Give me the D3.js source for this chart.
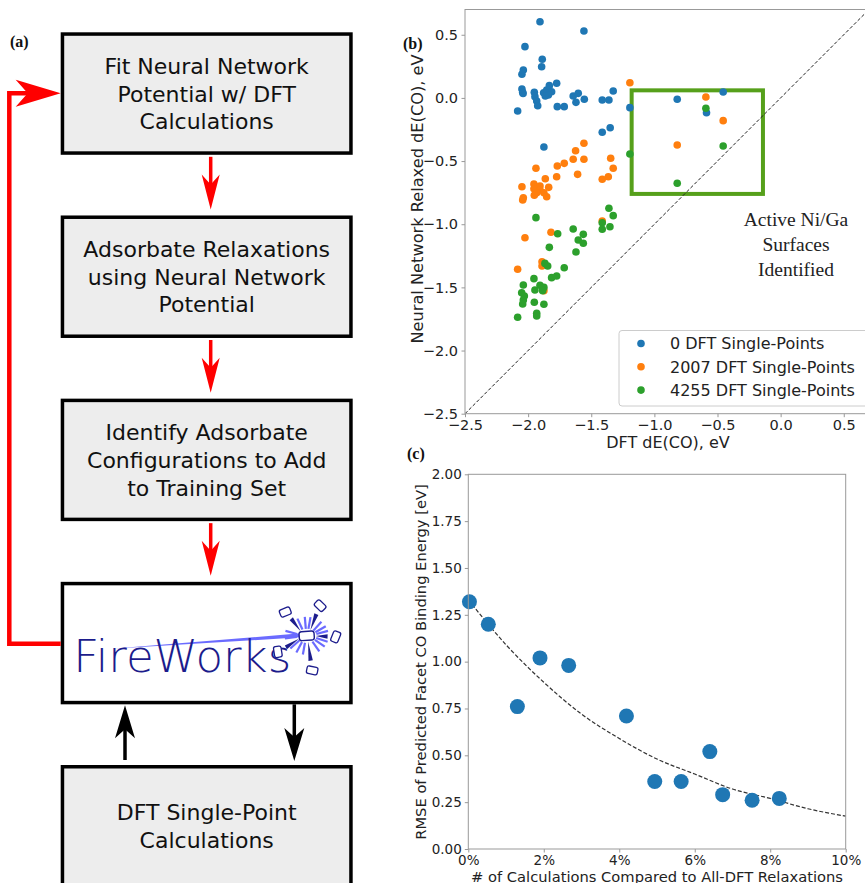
<!DOCTYPE html>
<html>
<head>
<meta charset="utf-8">
<script src="https://cdn.jsdelivr.net/npm/d3@7"></script>
<style>
  body { margin: 0; background: #fff; }
  svg { font-family: "DejaVu Sans", sans-serif; }
</style>
</head>
<body>
<svg id="fig" width="865" height="883"></svg>
<script>
// ---- panel (a) flowchart steps ----
const steps = [
  ["Fit Neural Network", "Potential w/ DFT", "Calculations"],
  ["Adsorbate Relaxations", "using Neural Network", "Potential"],
  ["Identify Adsorbate", "Configurations to Add", "to Training Set"],
  [], // FireWorks logo box
  ["DFT Single-Point", "Calculations"]
];

// ---- panel (b) parity plot, [DFT, NN] pairs ----
const blueSet = [[-1.906,0.603],[-1.558,0.530],[-2.025,0.406],[-1.888,0.306],[-1.893,0.247],[-2.038,0.221],
  [-2.049,0.187],[-2.049,0.071],[-2.043,0.044],[-2.04,0.035],[-1.951,0.044],[-1.946,0.010],[-1.932,-0.024],
  [-1.924,-0.062],[-1.877,0.041],[-1.853,0.063],[-1.832,0.097],[-1.814,0.049],[-1.840,0.023],[-1.864,0.015],
  [-1.774,0.116],[-1.769,-0.069],[-1.714,-0.069],[-1.643,0.015],[-1.603,0.036],[-1.621,-0.035],[-1.555,-0.011],
  [-1.413,-0.017],[-1.360,-0.017],[-1.326,0.055],[-1.194,-0.077],[-2.083,-0.104],[-1.413,-0.272],[-1.350,-0.236],
  [-1.875,-0.389],[-0.819,-0.011],[-0.587,-0.117],[-0.455,0.047]];
const orangeSet = [[-1.558,-0.359],[-1.624,-0.418],[-1.346,-0.478],[-1.558,-0.486],[-1.643,-0.486],[-1.714,-0.518],
  [-1.769,-0.539],[-1.938,-0.557],[-1.326,-0.557],[-1.365,-0.624],[-1.608,-0.605],[-1.774,-0.624],[-1.413,-0.644],
  [-1.864,-0.640],[-2.049,-0.703],[-1.954,-0.682],[-1.906,-0.698],[-1.954,-0.719],[-1.906,-0.729],[-1.932,-0.751],
  [-1.875,-0.751],[-1.837,-0.708],[-1.951,-0.771],[-1.853,-0.782],[-2.038,-0.790],[-2.043,-0.808],[-2.025,-1.107],
  [-1.819,-1.064],[-1.413,-0.975],[-2.083,-1.357],[-1.890,-1.297],[-1.890,-1.331],[-1.875,-1.526],[-1.194,0.120],
  [-0.592,0.007],[-0.455,-0.180],[-0.819,-0.373]];
const greenSet = [[-1.360,-0.874],[-1.326,-0.932],[-1.938,-0.948],[-1.413,-0.988],[-1.352,-1.020],[-1.413,-1.040],
  [-1.643,-1.038],[-1.766,-1.075],[-1.563,-1.080],[-1.603,-1.125],[-1.563,-1.151],[-1.621,-1.220],[-1.832,-1.183],
  [-1.714,-1.344],[-1.867,-1.310],[-1.845,-1.331],[-1.814,-1.423],[-1.774,-1.410],[-1.954,-1.431],[-2.038,-1.481],
  [-1.906,-1.484],[-1.875,-1.500],[-1.946,-1.521],[-1.885,-1.526],[-2.051,-1.542],[-2.030,-1.568],[-2.038,-1.600],
  [-1.951,-1.618],[-2.043,-1.632],[-1.875,-1.634],[-1.932,-1.705],[-1.932,-1.727],[-2.083,-1.737],[-1.194,-0.444],
  [-0.819,-0.676],[-0.592,-0.082],[-0.455,-0.381]];
const seriesNames = ["0 DFT Single-Points", "2007 DFT Single-Points", "4255 DFT Single-Points"];
const seriesColors = ["#1f77b4", "#ff7f0e", "#2ca02c"];
const activeBox = { x0: -1.18, x1: -0.14, y0: -0.76, y1: 0.06 };
const activeNote = ["Active Ni/Ga", "Surfaces", "Identified"];
const bTicks = [-2.5, -2.0, -1.5, -1.0, -0.5, 0.0, 0.5];

// ---- panel (c) RMSE vs fraction of DFT calcs ----
const calcPct = [0.03, 0.53, 1.30, 1.90, 2.66, 4.19, 4.94, 5.64, 6.40, 6.74, 7.52, 8.24];
const rmse = [1.32, 1.20, 0.76, 1.02, 0.98, 0.71, 0.36, 0.36, 0.52, 0.29, 0.26, 0.27];
const fitPct = [0, 1, 2, 3, 4, 5, 6, 7, 8, 9, 10];
const fitRmse = [1.33, 1.09, 0.89, 0.72, 0.59, 0.48, 0.40, 0.32, 0.27, 0.215, 0.175];
const cYTicks = [0, 0.25, 0.5, 0.75, 1.0, 1.25, 1.5, 1.75, 2.0];
const cXTicks = [0, 2, 4, 6, 8, 10];

const svg = d3.select("#fig");
const frameCol = "#999";
const labelFont = "'Liberation Serif', 'Times New Roman', serif";

// ================= panel (a) =================
const boxTop = d3.scaleLinear().domain([0, 4]).range([32.3, 765]);
const boxX = 60.7, boxW = 292, boxH = 122.5, sw = 3.5;
const midX = boxX + boxW / 2;

const boxes = svg.append("g");
steps.forEach((lines, i) => {
  const t = boxTop(i);
  boxes.append("rect")
    .attr("x", boxX + sw / 2).attr("y", t + sw / 2)
    .attr("width", boxW - sw).attr("height", boxH - sw)
    .attr("fill", i === 3 ? "#fff" : "#ededed")
    .attr("stroke", "#000").attr("stroke-width", sw);
  const cy0 = t + boxH / 2;
  lines.forEach((s, j) => {
    boxes.append("text")
      .attr("x", midX).attr("y", cy0 + (j - (lines.length - 1) / 2) * 27.6 + 8)
      .attr("text-anchor", "middle").attr("font-size", 22).attr("fill", "#111")
      .text(s);
  });
});

function arrowHead(g, x, y, dir, w, len, notch, col) {
  // dir: angle in degrees the arrow points to (0 = right, 90 = down)
  g.append("path")
    .attr("d", `M0,0 L${-len},${-w / 2} L${-len + notch},0 L${-len},${w / 2} Z`)
    .attr("transform", `translate(${x},${y}) rotate(${dir})`)
    .attr("fill", col);
}

const arrows = svg.append("g");
// red arrows between the first four boxes
[0, 1, 2].forEach(i => {
  const y0 = boxTop(i) + boxH + 2;
  const tip = boxTop(i + 1) - 6;
  arrows.append("line").attr("x1", 210.7).attr("x2", 210.7)
    .attr("y1", y0).attr("y2", tip - 20)
    .attr("stroke", "#ff0000").attr("stroke-width", 3.5);
  arrowHead(arrows, 210.7, tip, 90, 18, 35, 10, "#ff0000");
});
// loop back from FireWorks to fitting
const loopY0 = boxTop(3) + 62, loopY1 = boxTop(0) + 61;
arrows.append("path")
  .attr("d", `M${boxX},${loopY0} H9.3 V${loopY1} H30`)
  .attr("fill", "none").attr("stroke", "#ff0000").attr("stroke-width", 4.5);
arrowHead(arrows, boxX, loopY1, 0, 27, 45, 12, "#ff0000");
// black arrows FireWorks <-> DFT
const fwBottom = boxTop(3) + boxH, dftTop = boxTop(4);
arrows.append("line").attr("x1", 125).attr("x2", 125)
  .attr("y1", dftTop - 5).attr("y2", fwBottom + 20)
  .attr("stroke", "#000").attr("stroke-width", 3.5);
arrowHead(arrows, 125, fwBottom + 1, -90, 20, 33, 9, "#000");
arrows.append("line").attr("x1", 294.3).attr("x2", 294.3)
  .attr("y1", fwBottom).attr("y2", dftTop - 25)
  .attr("stroke", "#000").attr("stroke-width", 3.5);
arrowHead(arrows, 294.3, dftTop - 4, 90, 20, 33, 9, "#000");

// FireWorks logo
const logo = svg.append("g").attr("transform", `translate(${boxX},${boxTop(3)})`);
const navy = "#1c1c8c", lite = "#6b6bff";
logo.append("path")
  .attr("d", "M51,67 L240,51.5 L240,55.5 Z")
  .attr("fill", lite);
logo.append("text")
  .attr("x", 12.5).attr("y", 90).attr("font-size", 44).attr("font-weight", 200)
  .attr("textLength", 218).attr("lengthAdjust", "spacingAndGlyphs")
  .attr("fill", navy).text("FireWorks");
const burst = logo.append("g").attr("transform", "translate(246,54)");
[-115, -95, -80, -48, -30, -15, 18, 35, 55, 100, 118, 138, 172, -165].forEach(a => {
  const r = a * Math.PI / 180;
  burst.append("line")
    .attr("x1", 10 * Math.cos(r)).attr("y1", 7 * Math.sin(r))
    .attr("x2", 22 * Math.cos(r)).attr("y2", 19 * Math.sin(r))
    .attr("stroke", lite).attr("stroke-width", 2.2);
});
[[-132, 32], [-66, 33], [2, 29], [151, 33], [81, 35]].forEach(([a, d]) => {
  const r = a * Math.PI / 180;
  const ex = d * Math.cos(r), ey = d * Math.sin(r);
  const px = -Math.sin(r) * 2.2, py = Math.cos(r) * 2.2;
  burst.append("path")
    .attr("d", `M${9 * Math.cos(r)},${6 * Math.sin(r)} L${ex * 0.72 + px},${ey * 0.72 + py} L${ex * 0.72 - px},${ey * 0.72 - py} Z`)
    .attr("fill", navy);
  burst.append("rect")
    .attr("x", -5.5).attr("y", -3.8).attr("width", 11).attr("height", 7.6).attr("rx", 2)
    .attr("transform", `translate(${ex},${ey}) rotate(${a + 90 + 20})`)
    .attr("fill", "#fff").attr("stroke", navy).attr("stroke-width", 1.3);
});
burst.append("rect")
  .attr("x", -7.5).attr("y", -4.5).attr("width", 15).attr("height", 9).attr("rx", 2.5)
  .attr("transform", "rotate(-4)")
  .attr("fill", "#fff").attr("stroke", navy).attr("stroke-width", 1.4);

// panel labels
[["(a)", 10, 47], ["(b)", 403, 49], ["(c)", 407, 459]].forEach(([s, x, y]) => {
  svg.append("text").attr("x", x).attr("y", y)
    .style("font-family", labelFont).attr("font-weight", "bold").attr("font-size", 16)
    .attr("fill", "#111").text(s);
});

function styleAxis(g, size) {
  g.select(".domain").remove();
  g.selectAll(".tick line").attr("stroke", frameCol);
  g.selectAll(".tick text").attr("font-size", size).attr("fill", "#222")
    .style("font-family", "'DejaVu Sans', sans-serif");
}

// ================= panel (b) =================
const bx = d3.scaleLinear().domain([-2.5, 0.7]).range([465, 869]);
const by = d3.scaleLinear().domain([-2.5, 0.7]).range([413.7, 9.5]);
const gb = svg.append("g");
gb.append("clipPath").attr("id", "clipB").append("rect")
  .attr("x", bx(-2.5)).attr("y", by(0.7))
  .attr("width", bx(0.7) - bx(-2.5)).attr("height", by(-2.5) - by(0.7));
const plotB = gb.append("g").attr("clip-path", "url(#clipB)");

plotB.append("rect")
  .attr("x", bx(activeBox.x0)).attr("y", by(activeBox.y1))
  .attr("width", bx(activeBox.x1) - bx(activeBox.x0))
  .attr("height", by(activeBox.y0) - by(activeBox.y1))
  .attr("fill", "none").attr("stroke", "#56a01b").attr("stroke-width", 4);

plotB.append("line")
  .attr("x1", bx(-2.5)).attr("y1", by(-2.5)).attr("x2", bx(0.7)).attr("y2", by(0.7))
  .attr("stroke", "#222").attr("stroke-width", 1).attr("stroke-dasharray", "3.5,2");

[blueSet, orangeSet, greenSet].forEach((set, k) => {
  plotB.append("g").selectAll("circle").data(set).join("circle")
    .attr("cx", d => bx(d[0])).attr("cy", d => by(d[1])).attr("r", 3.8)
    .attr("fill", seriesColors[k]);
});

gb.append("g").attr("transform", `translate(0,${by(-2.5)})`)
  .call(d3.axisBottom(bx).tickValues(bTicks).tickFormat(d3.format(".1f")).tickSize(3.5).tickPadding(3))
  .call(styleAxis, 14.5);
gb.append("g").attr("transform", `translate(${bx(-2.5)},0)`)
  .call(d3.axisLeft(by).tickValues(bTicks).tickFormat(d3.format(".1f")).tickSize(3.5).tickPadding(3.5))
  .call(styleAxis, 14.5);
gb.append("rect")
  .attr("x", bx(-2.5)).attr("y", by(0.7))
  .attr("width", bx(0.7) - bx(-2.5)).attr("height", by(-2.5) - by(0.7))
  .attr("fill", "none").attr("stroke", frameCol).attr("stroke-width", 1);

gb.append("text").attr("x", 668).attr("y", 448).attr("text-anchor", "middle")
  .attr("font-size", 16).attr("fill", "#222").text("DFT dE(CO), eV");
gb.append("text").attr("transform", "translate(422.5,199) rotate(-90)").attr("text-anchor", "middle")
  .attr("font-size", 16.2).attr("fill", "#222").text("Neural Network Relaxed dE(CO), eV");

activeNote.forEach((s, i) => {
  gb.append("text").attr("x", 796).attr("y", 226 + i * 24.8).attr("text-anchor", "middle")
    .style("font-family", labelFont).attr("font-size", 19.5).attr("fill", "#222").text(s);
});

// legend
const lg = gb.append("g");
lg.append("rect").attr("x", 619).attr("y", 330.5).attr("width", 250).attr("height", 75.5)
  .attr("rx", 3).attr("fill", "#fff").attr("fill-opacity", 0.8).attr("stroke", "#ccc");
seriesNames.forEach((s, i) => {
  const y = 343.5 + i * 23.3;
  lg.append("circle").attr("cx", 641).attr("cy", y).attr("r", 3.8).attr("fill", seriesColors[i]);
  lg.append("text").attr("x", 670).attr("y", y + 5.8).attr("font-size", 16)
    .attr("fill", "#222").text(s);
});

// ================= panel (c) =================
const cx = d3.scaleLinear().domain([0, 10]).range([468.3, 845.7]);
const cy = d3.scaleLinear().domain([0, 2]).range([849, 474.3]);
const gc = svg.append("g");

gc.append("path").datum(fitPct.map((p, i) => [p, fitRmse[i]]))
  .attr("d", d3.line().x(d => cx(d[0])).y(d => cy(d[1])).curve(d3.curveMonotoneX))
  .attr("fill", "none").attr("stroke", "#333").attr("stroke-width", 1.2)
  .attr("stroke-dasharray", "4,2");

gc.append("g").selectAll("circle").data(calcPct).join("circle")
  .attr("cx", d => cx(d)).attr("cy", (d, i) => cy(rmse[i])).attr("r", 7.5)
  .attr("fill", "#1f77b4");

gc.append("g").attr("transform", `translate(0,${cy(0)})`)
  .call(d3.axisBottom(cx).tickValues(cXTicks).tickFormat(d => d + "%").tickSize(3.5).tickPadding(2.5))
  .call(styleAxis, 13.5);
gc.append("g").attr("transform", `translate(${cx(0)},0)`)
  .call(d3.axisLeft(cy).tickValues(cYTicks).tickFormat(d3.format(".2f")).tickSize(3.5).tickPadding(3))
  .call(styleAxis, 13.5);
gc.append("rect")
  .attr("x", cx(0)).attr("y", cy(2)).attr("width", cx(10) - cx(0)).attr("height", cy(0) - cy(2))
  .attr("fill", "none").attr("stroke", frameCol).attr("stroke-width", 1);

gc.append("text").attr("x", 657).attr("y", 881.5).attr("text-anchor", "middle")
  .attr("font-size", 14.7).attr("fill", "#222").text("# of Calculations Compared to All-DFT Relaxations");
gc.append("text").attr("transform", "translate(426,662) rotate(-90)").attr("text-anchor", "middle")
  .attr("font-size", 14.7).attr("fill", "#222").text("RMSE of Predicted Facet CO Binding Energy [eV]");
</script>
</body>
</html>
